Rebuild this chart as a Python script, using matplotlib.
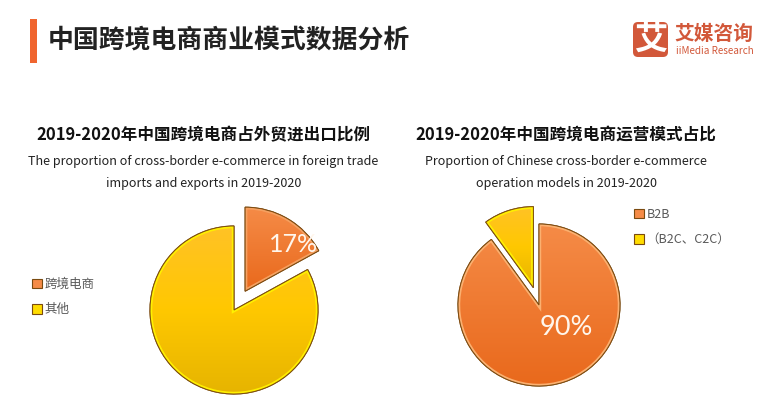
import numpy as np
import matplotlib.pyplot as plt
import matplotlib.patches as patches
from matplotlib.colors import LinearSegmentedColormap

plt.rcParams['font.family'] = ['Noto Sans CJK SC', 'DejaVu Sans']

main_title = "中国跨境电商商业模式数据分析"
logo_cn = "艾媒咨询"
logo_en = "iiMedia Research"

left_title = "2019-2020年中国跨境电商占外贸进出口比例"
left_sub = ["The proportion of cross-border e-commerce in foreign trade", "imports and exports in 2019-2020"]
left_labels = ["跨境电商", "其他"]
left_values = [17, 83]

right_title = "2019-2020年中国跨境电商运营模式占比"
right_sub = ["Proportion of Chinese cross-border e-commerce", "operation models in 2019-2020"]
right_labels = ["B2B", "（B2C、C2C）"]
right_values = [90, 10]

W, H = 769, 400


def draw_pie(cx, cy, r, values, explode, grads, inner, labels, legend_xy, pct_index, pct_xy, pct_size):
    """1枚の円グラフをピクセル位置に描く"""
    half = 1.5 * r
    plt.axes([(cx - half) / W, 1 - (cy + half) / H, 2 * half / W, 2 * half / H])
    wedges, _ = plt.pie(values, explode=explode, startangle=90, counterclock=False, radius=1.0,
                        colors=["#F58B47", "#FFDC00"], wedgeprops={"edgecolor": "#7A4A10", "linewidth": 0.8})
    ax = plt.gca()
    for wedge, grad, light in zip(wedges, grads, inner):
        # 上から下へのグラデーション
        cmap = LinearSegmentedColormap.from_list("g", grad)
        bbox = wedge.get_path().transformed(wedge.get_patch_transform()).get_extents()
        im = plt.imshow(np.linspace(0, 1, 128).reshape(-1, 1), cmap=cmap, aspect="auto", zorder=2,
                        extent=(bbox.x0, bbox.x1, bbox.y0, bbox.y1), origin="upper")
        im.set_clip_path(wedge)
        # 内側の明るい縁
        rim = patches.PathPatch(wedge.get_path(), transform=wedge.get_transform(), fill=False,
                                edgecolor=light, linewidth=3.2, zorder=3)
        ax.add_patch(rim)
        rim.set_clip_path(wedge)
        edge = patches.PathPatch(wedge.get_path(), transform=wedge.get_transform(), fill=False,
                                 edgecolor="#7A4A10", linewidth=0.7, zorder=4)
        ax.add_patch(edge)
    plt.xlim(-1.5, 1.5)
    plt.ylim(-1.5, 1.5)
    plt.axis("off")
    plt.legend(wedges, labels, loc="upper left", frameon=False, prop={"size": 9},
               labelcolor="#595959", handlelength=0.8, handleheight=0.8, handletextpad=0.2,
               labelspacing=0.98, borderpad=0, borderaxespad=0,
               bbox_to_anchor=legend_xy, bbox_transform=plt.gcf().transFigure)
    plt.text((pct_xy[0] - cx) / r, (cy - pct_xy[1]) / r, f"{values[pct_index]}%", color="#FFF6EC",
             fontsize=pct_size, family="Lato", weight="normal", ha="center", va="center", zorder=5)


def draw_text():
    """タイトルとロゴ"""
    plt.axes([0, 0, 1, 1])
    plt.xlim(0, W)
    plt.ylim(H, 0)
    plt.axis("off")
    ax = plt.gca()
    ax.add_patch(patches.Rectangle((30, 19), 7, 44, facecolor="#F0652F", edgecolor="none"))
    plt.text(48, 40, main_title, fontsize=18.6, weight="bold", color="#222222", va="center")

    plt.text(203.5, 135, left_title, fontsize=11.95, weight="bold", color="#111111", ha="center", va="center")
    plt.text(203.5, 161, left_sub[0], fontsize=9.05, color="#222222", ha="center", va="center")
    plt.text(203.5, 184, left_sub[1], fontsize=9.05, color="#222222", ha="center", va="center")
    plt.text(566, 135, right_title, fontsize=11.95, weight="bold", color="#111111", ha="center", va="center")
    plt.text(566, 161, right_sub[0], fontsize=9.05, color="#222222", ha="center", va="center")
    plt.text(566, 184, right_sub[1], fontsize=9.05, color="#222222", ha="center", va="center")

    # ロゴ
    ax.add_patch(patches.FancyBboxPatch((633, 22), 35, 35, boxstyle="round,pad=0,rounding_size=5",
                                        facecolor="#D2583A", edgecolor="none"))
    plt.text(650.5, 39, "艾", fontsize=24, weight="bold", color="white", ha="center", va="center")
    plt.text(674, 34, logo_cn, fontsize=14.2, weight="bold", color="#D2583A", va="center")
    plt.text(676, 51, logo_en, fontsize=7.15, color="#D2583A", va="center")


if __name__ == "__main__":
    plt.figure(figsize=(W / 100, H / 100), dpi=100, facecolor="white")
    draw_text()
    orange = ["#F58B47", "#E9691C"]
    yellow = ["#FFC226", "#FFC800", "#E6B400"]
    draw_pie(234, 310, 84, left_values, [0.26, 0], [orange, yellow], ["#F5A060", "#FFF000"],
             left_labels, (32 / W, 1 - 278 / H), 0, (294, 244), 18)
    draw_pie(539, 305, 81, right_values, [0, 0.225], [orange, yellow], ["#FBB070", "#FFF000"],
             right_labels, (634 / W, 1 - 208 / H), 0, (566, 328), 19.5)
    plt.savefig("out.png", dpi=100)
    plt.close()
